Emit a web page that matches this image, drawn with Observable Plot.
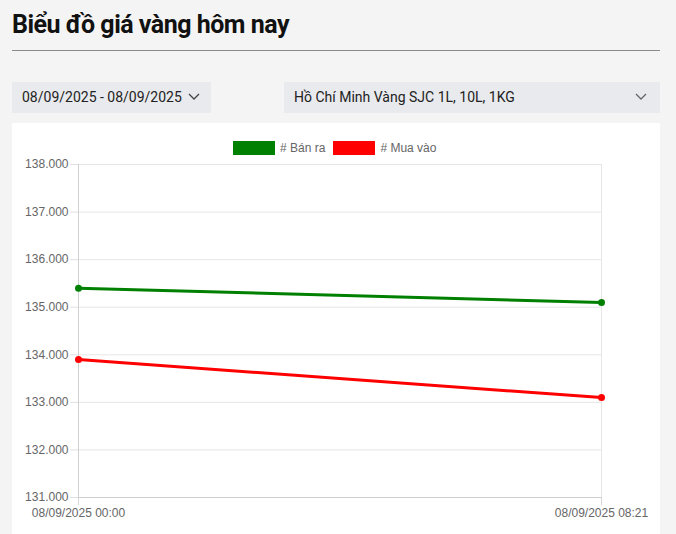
<!DOCTYPE html>
<html>
<head>
<meta charset="utf-8">
<script src="https://cdn.jsdelivr.net/npm/d3@7"></script>
<script src="https://cdn.jsdelivr.net/npm/@observablehq/plot@0.6"></script>
<style>
  html, body { margin: 0; padding: 0; }
  body { width: 676px; height: 534px; background: #f4f4f4; position: relative; overflow: hidden; font-family: Roboto, "Liberation Sans", sans-serif; }
  .title { position: absolute; left: 12px; top: 10px; font-size: 25px; font-weight: 700; color: #111; letter-spacing: -0.5px; line-height: normal; }
  .hr { position: absolute; left: 12px; top: 50px; width: 648px; height: 1px; background: #8a8a8a; }
  .dd { position: absolute; top: 82px; height: 31px; background: #e9eaed; color: #222; font-size: 14px; line-height: 31px; box-sizing: border-box; padding-left: 10px; }
  .dd svg { position: absolute; top: 11px; }
  .card { position: absolute; left: 12px; top: 123px; width: 648px; height: 420px; background: #fff; }
  .legend { position: absolute; left: 233px; top: 141px; display: flex; align-items: center; font-family: "Liberation Sans", Arial, sans-serif; font-size: 12px; color: #666; }
  .legend .sw { width: 42px; height: 14px; margin-right: 5px; }
  .legend .it { display: flex; align-items: center; margin-right: 8px; }
  #chart { position: absolute; left: 0; top: 155px; }
</style>
</head>
<body>
<div class="title">Biểu đồ giá vàng hôm nay</div>
<div class="hr"></div>
<div class="dd" style="left:12px;width:199px;">08/09/2025 - 08/09/2025
  <svg width="12" height="8" style="left:176px;"><path d="M1 1 L6 6 L11 1" fill="none" stroke="#444" stroke-width="1.3"/></svg>
</div>
<div class="dd" style="left:284px;width:376px;">Hồ Chí Minh Vàng SJC 1L, 10L, 1KG
  <svg width="12" height="8" style="left:351px;"><path d="M1 1 L6 6 L11 1" fill="none" stroke="#666" stroke-width="1.3"/></svg>
</div>
<div class="card"></div>
<div class="legend" id="legend"></div>
<div id="chart"></div>
<script>
const times = ["08/09/2025 00:00", "08/09/2025 08:21"];
const banRa = [135400, 135100];
const muaVao = [133900, 133100];
const seriesNames = ["# Bán ra", "# Mua vào"];
const seriesColors = ["#008000", "#ff0000"];
const yTicks = [131000, 132000, 133000, 134000, 135000, 136000, 137000, 138000];

const data = [];
times.forEach((t, i) => {
  data.push({time: t, value: banRa[i], series: seriesNames[0]});
  data.push({time: t, value: muaVao[i], series: seriesNames[1]});
});

const fmt = v => d3.format(",.0f")(v).replace(/,/g, ".");

// legend
const leg = document.getElementById("legend");
seriesNames.forEach((n, i) => {
  const it = document.createElement("div");
  it.className = "it";
  it.innerHTML = `<div class="sw" style="background:${seriesColors[i]}"></div><span>${n}</span>`;
  leg.appendChild(it);
});

const chart = Plot.plot({
  width: 676,
  height: 379,
  marginLeft: 78,
  marginRight: 75,
  marginTop: 9,
  marginBottom: 37,
  style: {fontFamily: "'Liberation Sans', Arial, sans-serif", fontSize: "12px", background: "transparent"},
  x: {type: "point", domain: times, padding: 0},
  y: {domain: [131000, 138000]},
  color: {domain: seriesNames, range: seriesColors},
  marks: [
    Plot.gridY(yTicks, {stroke: "#e6e6e6", strokeOpacity: 1}),
    Plot.gridX(times, {stroke: "#e6e6e6", strokeOpacity: 1}),
    Plot.axisY(yTicks, {tickSize: 8, tickPadding: 2, stroke: "#e0e0e0", fill: "#666", tickFormat: fmt, label: null}),
    Plot.axisX(times, {tickSize: 8, tickPadding: 3, stroke: "#d6d6d6", fill: "#666", label: null}),
    Plot.ruleX([times[0]], {stroke: "#d0d0d0"}),
    Plot.ruleY([131000], {stroke: "#cfcfcf"}),
    Plot.line(data, {x: "time", y: "value", z: "series", stroke: "series", strokeWidth: 3}),
    Plot.dot(data, {x: "time", y: "value", fill: "series", r: 3.5})
  ]
});
document.getElementById("chart").appendChild(chart);
</script>
</body>
</html>
